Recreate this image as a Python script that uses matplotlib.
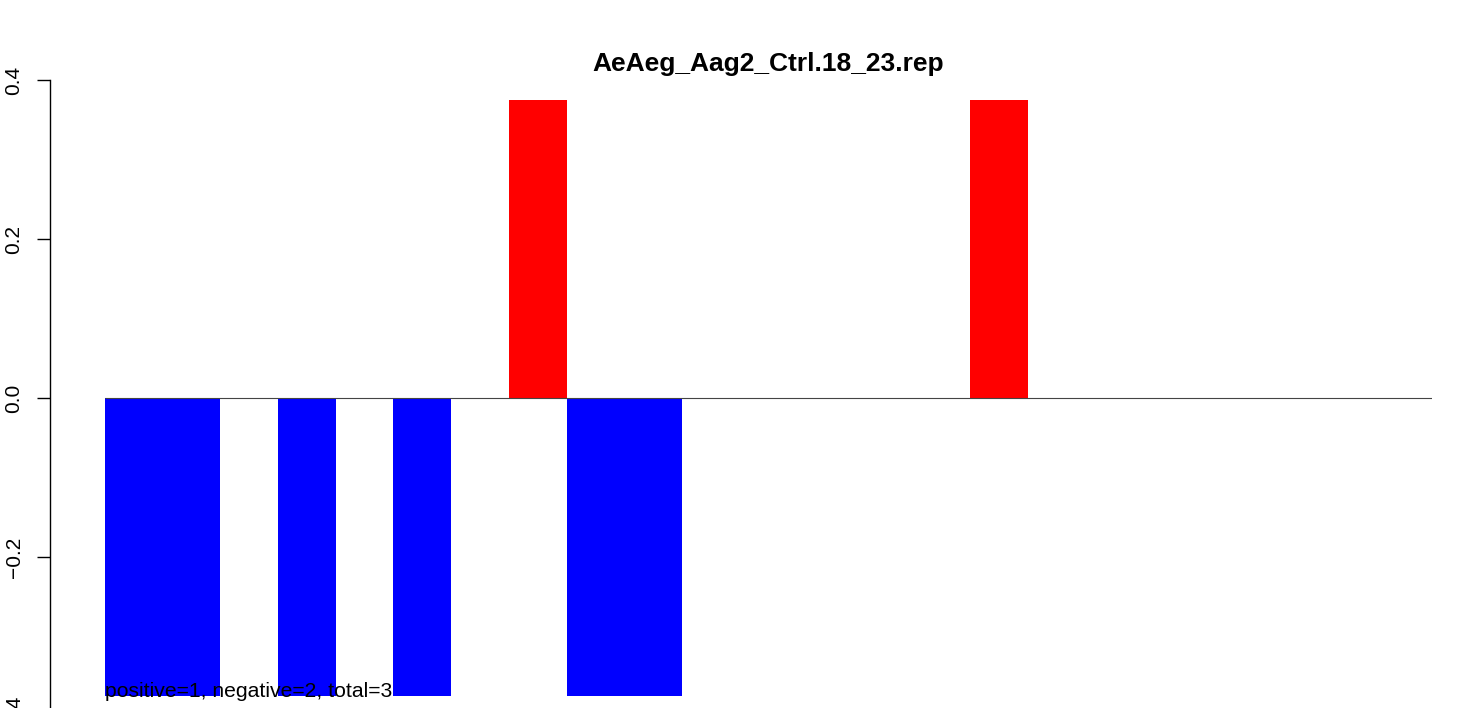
import matplotlib.pyplot as plt

plt.rcParams['font.family'] = ['Liberation Sans', 'DejaVu Sans']

# valeurs des barres (23 positions, 0 = vide)
values = [-0.375, -0.375, 0, -0.375, 0, -0.375, 0, 0.375, -0.375, -0.375,
          0, 0, 0, 0, 0, 0.375, 0, 0, 0, 0, 0, 0, 0]
colors = ['red' if v > 0 else 'blue' for v in values]
yticks = [-0.4, -0.2, 0.0, 0.2, 0.4]
ytick_labels = ['\u22120.4', '\u22120.2', '0.0', '0.2', '0.4']
title = 'AeAeg_Aag2_Ctrl.18_23.rep'
note = 'positive=1, negative=2, total=3'

W, H = 1460, 708
fig = plt.figure(figsize=(W / 100, H / 100), dpi=100)
left, right, top, bottom = 50, 1432, 80, 716
ax = fig.add_axes([left / W, (H - bottom) / H, (right - left) / W, (bottom - top) / H])

n = len(values)
x = list(range(n))
ax.bar(x, values, width=1.0, align='edge', color=colors, linewidth=0)
ax.hlines(0, 0, n, color='#444444', linewidth=0.8)

ax.set_xlim(-(105 - left) / ((right - 105) / n), n)
ax.set_ylim(-0.4, 0.4)

for s in ['top', 'right', 'bottom']:
    ax.spines[s].set_visible(False)
ax.spines['left'].set_bounds(-0.4, 0.4)
ax.spines['left'].set_linewidth(1.0)
ax.set_xticks([])
ax.set_yticks(yticks)
ax.set_yticklabels(ytick_labels, rotation=90, va='center', fontsize=15)
ax.tick_params(axis='y', length=9.5, width=1.0, pad=9.5)

ax.text(0, -0.376, note, fontsize=15.2, ha='left', va='baseline')
fig.text((105 + right) / 2 / W, (H - 64) / H, title, fontsize=19,
         fontweight='bold', ha='center', va='center')

fig.savefig('out.png', dpi=100)
